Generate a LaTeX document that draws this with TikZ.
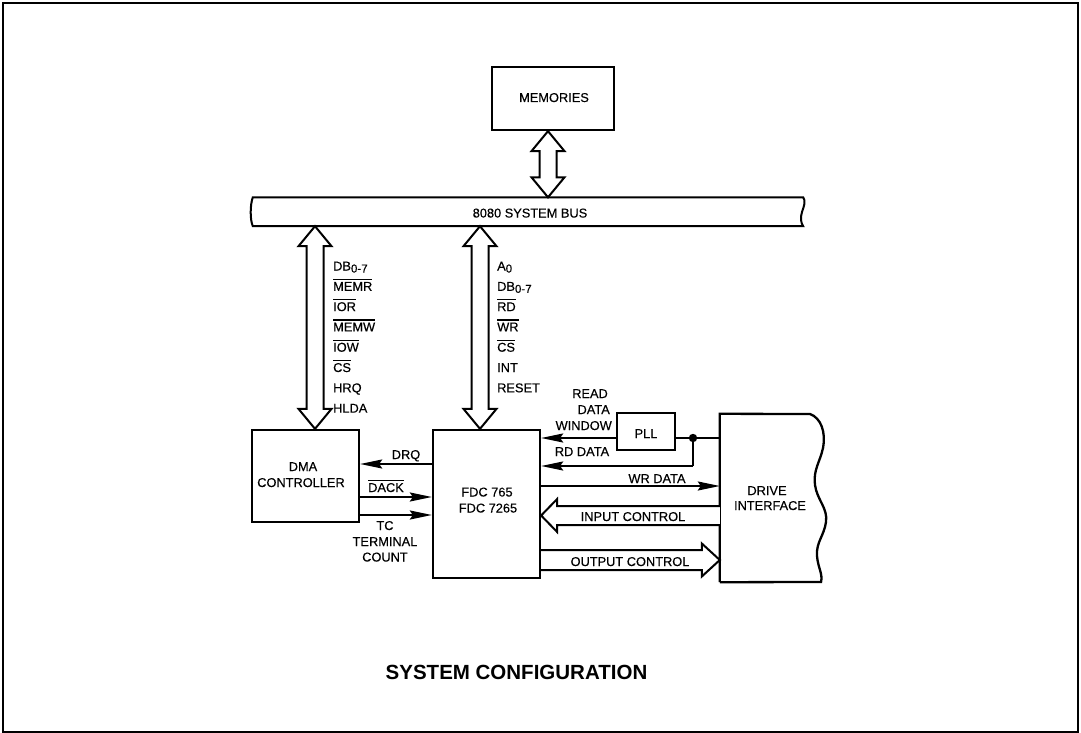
\documentclass[tikz,border=0pt]{standalone}
\usepackage{fontspec}
\setmainfont{Liberation Sans}
\newfontfamily\lblfont[FakeBold=0.35]{Liberation Sans}
\usetikzlibrary{calc,arrows.meta}
\newcommand\ovl[1]{\leavevmode\vbox{\hrule height 1.2pt\kern 2pt\hbox{#1}}}
\newcommand\lowsub[1]{\raisebox{-0.3ex}{\fontsize{11.5}{12}\selectfont #1}}
\newcommand\vdarr[2]{%
  \draw[blk] let \p1=#1, \p2=#2 in
    (\x1,\y1) -- (\x1+16.5pt,\y1-20pt) -- (\x1+8.5pt,\y1-20pt) -- (\x1+8.5pt,\y2+20pt)
    -- (\x1+16.5pt,\y2+20pt) -- (\x1,\y2) -- (\x1-16.5pt,\y2+20pt) -- (\x1-8.5pt,\y2+20pt)
    -- (\x1-8.5pt,\y1-20pt) -- (\x1-16.5pt,\y1-20pt) -- cycle;}
\begin{document}
\begin{tikzpicture}[x=1pt,y=-1pt,
  lbl/.style={font=\lblfont\fontsize{12.8}{14}\selectfont, inner sep=0pt},
  box/.style={draw, line width=2.3pt, inner sep=0pt},
  wire/.style={line width=2pt},
  arr/.style={wire,-{Stealth[length=22pt,width=9pt,inset=3pt]}},
  blk/.style={draw,fill=white,line width=2pt,line join=miter}]
\useasboundingbox (0,0) rectangle (1081,733);
\draw[line width=2pt] (2.5,3.5) rectangle (1078,731.5);

% boxes
\node[box, minimum width=122pt, minimum height=63pt] (mem) at (553,98.5) {};
\node[lbl, anchor=base] (memt) at (554,102) {MEMORIES};
\node[inner sep=0pt, minimum width=550pt, minimum height=28.5pt] (bus) at (528,211.75) {};
\node[lbl, anchor=base] (bust) at (530,217.5) {8080 SYSTEM BUS};
\node[box, minimum width=107pt, minimum height=92pt] (dma) at (305.5,476) {};
\node[box, minimum width=107pt, minimum height=148pt] (fdc) at (486.5,504) {};
\node[box, minimum width=58pt, minimum height=37pt] (pll) at (646,431.5) {};
\node[inner sep=0pt, minimum width=95pt, minimum height=168pt] (drv) at (767.5,498) {};

% bus outline
\draw[line width=2pt] (bus.north west) -- (bus.north east)
  .. controls (806,201) and (804,206) .. (802,212)
  .. controls (800,218) and (801,223) .. (bus.south east)
  -- (bus.south west) .. controls (250,220) and (250,205) .. (bus.north west) -- cycle;

% drive interface outline
\draw[line width=2.3pt] (drv.south west) -- (drv.north west) -- (810,414)
  .. controls (821,418) and (826,432) .. (823,448)
  .. controls (820,462) and (813,470) .. (815,485)
  .. controls (817,500) and (828,508) .. (826,522)
  .. controls (824,536) and (816,542) .. (817,556)
  .. controls (818,568) and (823,574) .. (821,582) -- (drv.south west);

% texts in boxes
\node[lbl, anchor=base] (dmat1) at (303,471) {DMA};
\node[lbl, anchor=base] (dmat2) at (301,487) {CONTROLLER};
\node[lbl, anchor=base] (fdct1) at (487,496.5) {FDC 765};
\node[lbl, anchor=base] (fdct2) at (488,512.5) {FDC 7265};
\node[lbl, anchor=base] (pllt) at (646,438) {PLL};
\node[lbl, anchor=base] (drvt1) at (767,495) {DRIVE};
\node[lbl, anchor=base] (drvt2) at (770,510) {INTERFACE};

% block double arrows
\coordinate (am) at (548,0);
\coordinate (ad) at (315,0);
\coordinate (af) at (480,0);
\vdarr{(am |- mem.south)}{(am |- bus.north)}
\vdarr{(ad |- bus.south)}{(ad |- dma.north)}
\vdarr{(af |- bus.south)}{(af |- fdc.north)}

% bus signal lists
\foreach \t [count=\i from 0] in {DB\lowsub{0-7},\ovl{MEMR},\ovl{IOR},\ovl{MEMW},\ovl{IOW},\ovl{CS},HRQ,HLDA}
  \node[lbl, anchor=base west] (ds\i) at (333,270.5+20.3*\i) {\t};
\foreach \t [count=\i from 0] in {A\lowsub{0},DB\lowsub{0-7},\ovl{RD},\ovl{WR},\ovl{CS},INT,RESET}
  \node[lbl, anchor=base west] (fs\i) at (497,270.5+20.3*\i) {\t};

% signal levels
\coordinate (yDRQ) at (0,464);
\coordinate (yDACK) at (0,497);
\coordinate (yTC) at (0,515);
\coordinate (yRDW) at (0,438);
\coordinate (yRD) at (0,466);
\coordinate (yWR) at (0,486);
\coordinate (yIN) at (0,515.5);
\coordinate (yOUT) at (0,560);
\coordinate (jn) at (693,0 |- yRDW);

\draw[arr] (fdc.west |- yDRQ) -- (dma.east |- yDRQ);
\draw[arr] (dma.east |- yDACK) -- (fdc.west |- yDACK);
\draw[arr] (dma.east |- yTC) -- (fdc.west |- yTC);
\draw[arr] (pll.west |- yRDW) -- (fdc.east |- yRDW);
\draw[wire] (pll.east |- yRDW) -- (drv.west |- yRDW);
\draw[wire] (jn) -- (jn |- yRD);
\draw[arr] (jn |- yRD) -- (fdc.east |- yRD);
\fill (jn) circle (4.2pt);
\draw[arr] (fdc.east |- yWR) -- (drv.west |- yWR);

% input control (hollow, to the left)
\draw[blk] let \p1=(drv.west |- yIN), \p2=(fdc.east |- yIN) in
  (\x1,\y1+9.5pt) -- (\x2+16pt,\y1+9.5pt) -- (\x2+16pt,\y1+16.5pt) -- (\x2,\y1)
  -- (\x2+16pt,\y1-16.5pt) -- (\x2+16pt,\y1-9.5pt) -- (\x1,\y1-9.5pt);
% output control (hollow, to the right)
\draw[blk] let \p1=(fdc.east |- yOUT), \p2=(drv.west |- yOUT) in
  (\x1,\y1+10pt) -- (\x2-18pt,\y1+10pt) -- (\x2-18pt,\y1+16.5pt) -- (\x2,\y1)
  -- (\x2-18pt,\y1-16.5pt) -- (\x2-18pt,\y1-10pt) -- (\x1,\y1-10pt);

% connector labels
\node[lbl, anchor=base] (lDRQ) at (406,459) {DRQ};
\node[lbl, anchor=base] (lDACK) at (386,492) {\ovl{DACK}};
\node[lbl, anchor=base] (lTC1) at (385,530) {TC};
\node[lbl, anchor=base] (lTC2) at (385,546) {TERMINAL};
\node[lbl, anchor=base] (lTC3) at (385,561.5) {COUNT};
\node[lbl, anchor=base east] (lR1) at (608,398) {READ};
\node[lbl, anchor=base east] (lR2) at (610,414) {DATA};
\node[lbl, anchor=base east] (lR3) at (612,430) {WINDOW};
\node[lbl, anchor=base] (lRD) at (582,456) {RD DATA};
\node[lbl, anchor=base] (lWR) at (657,483) {WR DATA};
\node[lbl, anchor=base] (lIN) at (633,521) {INPUT CONTROL};
\node[lbl, anchor=base] (lOUT) at (630,566) {OUTPUT CONTROL};

% title
\node[inner sep=0pt, anchor=base, font=\bfseries\fontsize{20.5}{24}\selectfont] (title) at (516.5,679) {SYSTEM CONFIGURATION};
\end{tikzpicture}
\end{document}
